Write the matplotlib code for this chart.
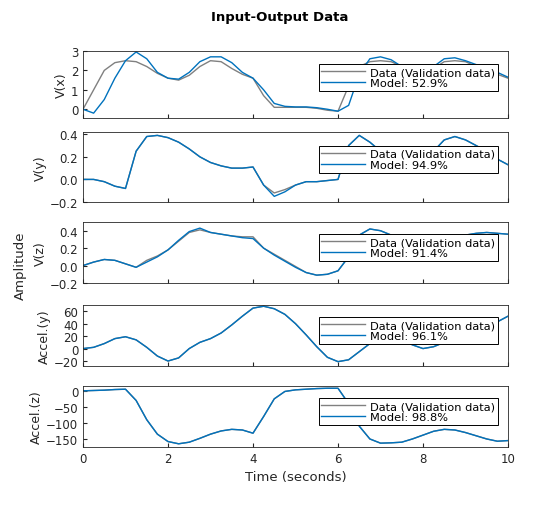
import numpy as np
import matplotlib
matplotlib.use("Agg")
import matplotlib.pyplot as plt

t = np.arange(41) * 0.25

vx_data = [0, 1.0, 2.0, 2.4, 2.5, 2.45, 2.2, 1.85, 1.6, 1.5, 1.75, 2.2, 2.5, 2.45, 2.1, 1.8, 1.6, 0.7, 0.1, 0.1, 0.1,
           0.1, 0.05, -0.05, -0.1, 1.2, 2.2, 2.45, 2.5, 2.45, 2.2, 1.9, 1.8, 2.1, 2.45, 2.5, 2.45, 2.2, 2.0, 1.8, 1.6]
vx_model = [0, -0.2, 0.5, 1.6, 2.5, 2.95, 2.6, 1.9, 1.6, 1.55, 1.9, 2.45, 2.7, 2.7, 2.4, 1.9, 1.6, 1.0, 0.3, 0.15, 0.12,
            0.12, 0.08, 0.0, -0.1, 0.2, 1.8, 2.6, 2.7, 2.55, 2.2, 1.9, 1.85, 2.2, 2.6, 2.65, 2.5, 2.3, 2.1, 1.9, 1.65]
vy_data = [0, 0, -0.02, -0.06, -0.08, 0.25, 0.38, 0.39, 0.37, 0.33, 0.27, 0.2, 0.15, 0.12, 0.1, 0.1, 0.11, -0.05, -0.12, -0.09,
           -0.05, -0.02, -0.02, -0.01, 0, 0.3, 0.39, 0.33, 0.25, 0.2, 0.15, 0.12, 0.1, 0.25, 0.35, 0.38, 0.35, 0.3, 0.25, 0.18, 0.13]
vy_model = [0, 0, -0.02, -0.06, -0.08, 0.25, 0.38, 0.39, 0.37, 0.33, 0.27, 0.2, 0.15, 0.12, 0.1, 0.1, 0.11, -0.05, -0.15, -0.11,
            -0.05, -0.02, -0.02, -0.01, 0, 0.3, 0.39, 0.33, 0.25, 0.2, 0.15, 0.12, 0.1, 0.25, 0.35, 0.38, 0.35, 0.3, 0.25, 0.18, 0.13]
vz_data = [0, 0.04, 0.07, 0.06, 0.02, -0.02, 0.06, 0.11, 0.18, 0.28, 0.38, 0.41, 0.38, 0.36, 0.34, 0.33, 0.33, 0.2, 0.13, 0.06,
           -0.01, -0.08, -0.11, -0.1, -0.06, 0.1, 0.35, 0.42, 0.4, 0.35, 0.3, 0.25, 0.22, 0.25, 0.3, 0.34, 0.35, 0.37, 0.38, 0.37, 0.36]
vz_model = [0, 0.04, 0.07, 0.06, 0.02, -0.02, 0.04, 0.1, 0.18, 0.29, 0.39, 0.43, 0.38, 0.36, 0.34, 0.32, 0.31, 0.2, 0.12, 0.05,
            -0.02, -0.08, -0.11, -0.1, -0.06, 0.1, 0.35, 0.42, 0.4, 0.35, 0.3, 0.25, 0.22, 0.25, 0.3, 0.34, 0.35, 0.37, 0.38, 0.37, 0.36]
ay_data = [0, 2, 8, 16, 19, 14, 2, -12, -20, -15, 0, 10, 16, 25, 38, 52, 65, 68, 64, 55, 40,
           22, 3, -14, -21, -18, -5, 8, 15, 18, 14, 6, 0, 3, 10, 18, 25, 30, 35, 43, 52]
ay_model = ay_data
az_data = [0, 1, 2, 4, 5, -30, -90, -135, -158, -165, -160, -148, -135, -125, -120, -122, -132, -80, -25, -2, 3,
           5, 7, 8, 8, -40, -110, -150, -163, -162, -160, -150, -138, -126, -120, -122, -130, -140, -150, -157, -155]
az_model = az_data

names = ["V(x)", "V(y)", "V(z)", "Accel.(y)", "Accel.(z)"]
fits = ["52.9%", "94.9%", "91.4%", "96.1%", "98.8%"]
datas = [vx_data, vy_data, vz_data, ay_data, az_data]
models = [vx_model, vy_model, vz_model, ay_model, az_model]
ylims = [(-0.45, 3), (-0.2, 0.42), (-0.2, 0.5), (-28, 70), (-175, 15)]
yticks = [[0, 1, 2, 3], [-0.2, 0, 0.2, 0.4], [-0.2, 0, 0.2, 0.4], [-20, 0, 20, 40, 60], [-150, -100, -50, 0]]
tops = [52, 133, 223, 306, 387]
bots = [119, 203, 284, 367, 448]

W, H = 560, 506
fig = plt.figure(figsize=(W/100, H/100), dpi=100)
plt.rcParams['font.family'] = ['DejaVu Sans']
fs = 8.5
for i in range(5):
    ax = fig.add_axes([83/W, 1-bots[i]/H, (508-83)/W, (bots[i]-tops[i])/H])
    ax.plot(t, datas[i], color='#808080', lw=1.0, label='Data (Validation data)')
    ax.plot(t, models[i], color='#0072BD', lw=1.0, label='Model: ' + fits[i])
    ax.set_xlim(0, 10)
    ax.set_ylim(*ylims[i])
    ax.set_yticks(yticks[i])
    ax.set_xticks([0, 2, 4, 6, 8, 10])
    ax.tick_params(direction='in', labelsize=fs, colors='#262626', length=3)
    if i < 4:
        ax.set_xticklabels([])
    ax.set_ylabel(names[i], fontsize=fs+0.5, color='#262626', labelpad=2)
    for s in ax.spines.values():
        s.set_color('#262626'); s.set_linewidth(0.6)
    leg = ax.legend(loc='upper right', bbox_to_anchor=(0.977, 0.8), fontsize=fs-0.3, fancybox=False,
                    framealpha=1, edgecolor='black', borderpad=0.25, handlelength=3.8,
                    labelspacing=0.1, borderaxespad=0.0, handletextpad=0.5)
    leg.get_frame().set_linewidth(0.7)
    if i == 4:
        ax.set_xlabel('Time (seconds)', fontsize=fs+1, color='#262626')
fig.text(0.5, 1-18/H, 'Input-Output Data', ha='center', va='center', fontsize=fs+1, fontweight='bold')
fig.text(20/W, 1-266/H, 'Amplitude', rotation=90, ha='center', va='center', fontsize=fs+1, color='#262626')
fig.savefig('out.png', dpi=100)
